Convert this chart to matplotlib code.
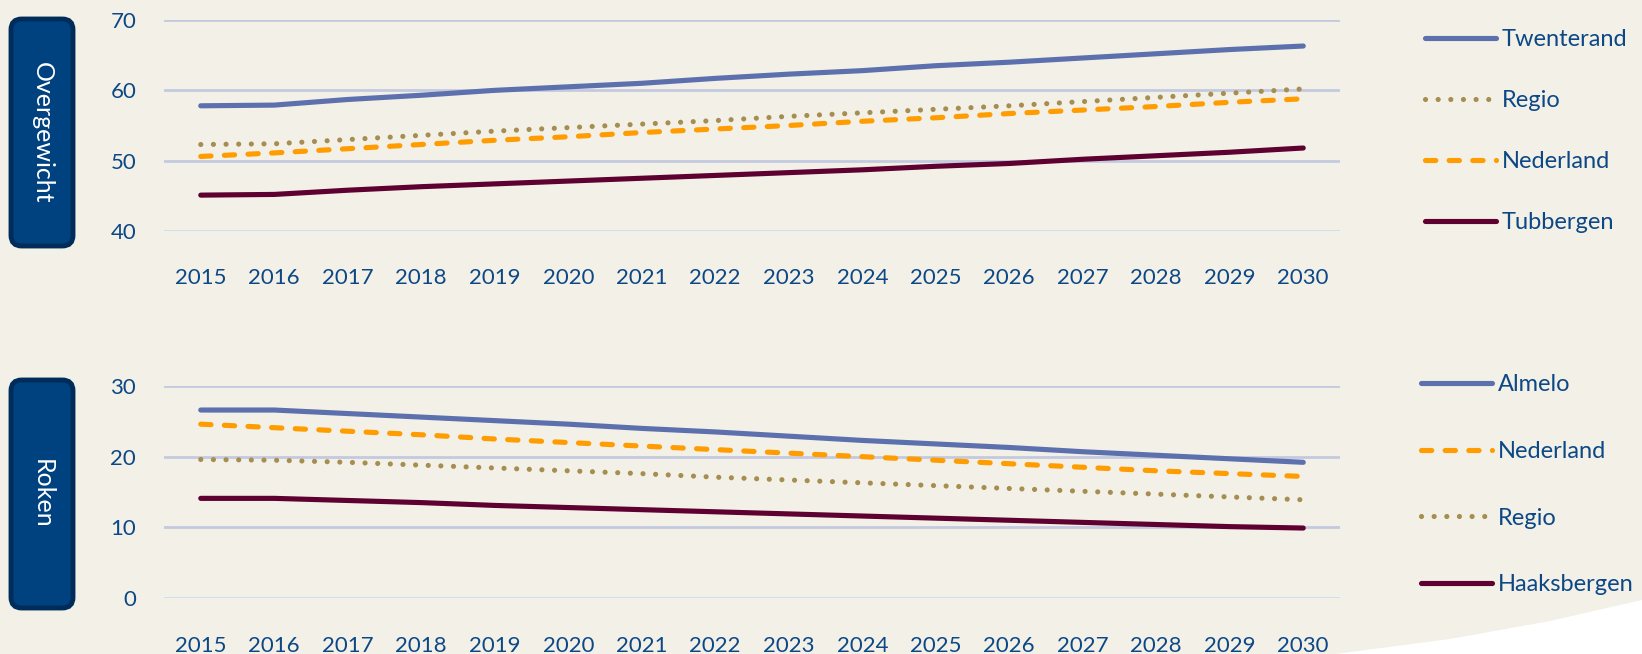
import numpy as np
import matplotlib
matplotlib.use("Agg")
from matplotlib import pyplot as plt
from matplotlib.patches import FancyBboxPatch, Polygon
from matplotlib.lines import Line2D

years = list(range(2015, 2031))

# Overgewicht (%)
twenterand = [57.8, 57.9, 58.7, 59.3, 60.0, 60.5, 61.0, 61.7, 62.3, 62.8, 63.5, 64.0, 64.6, 65.2, 65.8, 66.3]
regio_ov = [52.3, 52.4, 53.0, 53.6, 54.2, 54.7, 55.2, 55.7, 56.3, 56.8, 57.3, 57.8, 58.4, 59.0, 59.6, 60.2]
nederland_ov = [50.6, 51.1, 51.7, 52.3, 52.9, 53.4, 54.0, 54.5, 55.0, 55.6, 56.1, 56.7, 57.2, 57.7, 58.3, 58.8]
tubbergen = [45.1, 45.2, 45.8, 46.3, 46.7, 47.1, 47.5, 47.9, 48.3, 48.7, 49.2, 49.6, 50.2, 50.7, 51.2, 51.8]

# Roken (%)
almelo = [26.6, 26.6, 26.1, 25.6, 25.1, 24.6, 24.0, 23.5, 22.9, 22.3, 21.8, 21.3, 20.7, 20.2, 19.7, 19.2]
nederland_rk = [24.6, 24.1, 23.6, 23.1, 22.5, 22.0, 21.5, 21.0, 20.5, 20.0, 19.5, 19.0, 18.5, 18.0, 17.6, 17.2]
regio_rk = [19.6, 19.5, 19.2, 18.8, 18.4, 18.0, 17.6, 17.1, 16.7, 16.3, 15.9, 15.5, 15.1, 14.7, 14.3, 13.9]
haaksbergen = [14.1, 14.1, 13.8, 13.5, 13.1, 12.8, 12.5, 12.2, 11.9, 11.6, 11.3, 11.0, 10.7, 10.4, 10.1, 9.9]

bg = "#F3F0E8"
txt = "#0C4885"
blue = "#5D70AE"
orange = "#FF9C00"
gold = "#A68D50"
purple = "#5E0030"

plt.rcParams["font.family"] = ["Lato", "DejaVu Sans"]

fig = plt.figure(figsize=(16.42, 6.54), dpi=100, facecolor=bg)

# white wedge bottom right
fig.patches.append(Polygon([(1335 / 1642, 0), (1450 / 1642, 15 / 654), (1550 / 1642, 33 / 654),
                            (1, 54 / 654), (1, 0)], closed=True, transform=fig.transFigure,
                           facecolor="white", edgecolor="none", zorder=0))

lw = 3.7
styles = {
    "solid": dict(linestyle="-"),
    "dot": dict(linestyle=(0, (0.01, 2.45))),
    "dash": dict(linestyle=(0, (2.0, 2.6))),
}


def draw_panel(rect, series, ylim, yticks, legend_y, spacing, label, box):
    ax = fig.add_axes(rect)
    ax.set_facecolor("none")
    for vals, name, color, style in series:
        ax.plot(years, vals, color=color, lw=lw, label=name, solid_capstyle="round",
                dash_capstyle="round", **styles[style])
    ax.set_xlim(2014.5, 2030.5)
    ax.set_ylim(*ylim)
    ax.set_yticks(yticks)
    ax.set_xticks(years)
    for i, t in enumerate(yticks):
        ax.axhline(t, color="#C9DDF2" if i == 0 else "#C3CADF", lw=2, zorder=0)
    for s in ax.spines.values():
        s.set_visible(False)
    ax.tick_params(length=0, labelsize=16, colors=txt)
    ax.tick_params(axis="y", pad=20)
    ax.tick_params(axis="x", pad=27)
    handles = [Line2D([0], [0], color=c, lw=lw, solid_capstyle="round", dash_capstyle="round",
                      **styles[st]) for _, _, c, st in series]
    leg = fig.legend(handles, [s[1] for s in series], loc="upper left",
                     bbox_to_anchor=legend_y, frameon=False, fontsize=17,
                     handlelength=3.0, handletextpad=0.25, labelspacing=spacing,
                     borderaxespad=0, borderpad=0)
    for t in leg.get_texts():
        t.set_color(txt)
    x0, y0, x1, y1 = box
    fig.patches.append(FancyBboxPatch((x0 / 1642, 1 - y1 / 654), (x1 - x0) / 1642, (y1 - y0) / 654,
                                      boxstyle="round,pad=0,rounding_size=0.0065",
                                      transform=fig.transFigure, facecolor="#00417F",
                                      edgecolor="#002C5A", lw=3.5, mutation_aspect=1642 / 654))
    fig.text((x0 + x1) / 2 / 1642, 1 - (y0 + y1) / 2 / 654, label, rotation=270,
             ha="center", va="center", color="white", fontsize=18, zorder=5)
    return ax


draw_panel([164 / 1642, 1 - 231 / 654, 1176 / 1642, 211 / 654],
           [(twenterand, "Twenterand", blue, "solid"),
            (regio_ov, "Regio", gold, "dot"),
            (nederland_ov, "Nederland", orange, "dash"),
            (tubbergen, "Tubbergen", purple, "solid")],
           (40, 70), [40, 50, 60, 70], (1425 / 1642, 1 - 29 / 654), 1.70,
           "Overgewicht", (11, 19, 73, 246))

draw_panel([164 / 1642, 1 - 598 / 654, 1176 / 1642, 212 / 654],
           [(almelo, "Almelo", blue, "solid"),
            (nederland_rk, "Nederland", orange, "dash"),
            (regio_rk, "Regio", gold, "dot"),
            (haaksbergen, "Haaksbergen", purple, "solid")],
           (0, 30), [0, 10, 20, 30], (1421 / 1642, 1 - 374 / 654), 1.94,
           "Roken", (11, 380, 73, 608))

fig.savefig("out.png", dpi=100, facecolor=bg)
